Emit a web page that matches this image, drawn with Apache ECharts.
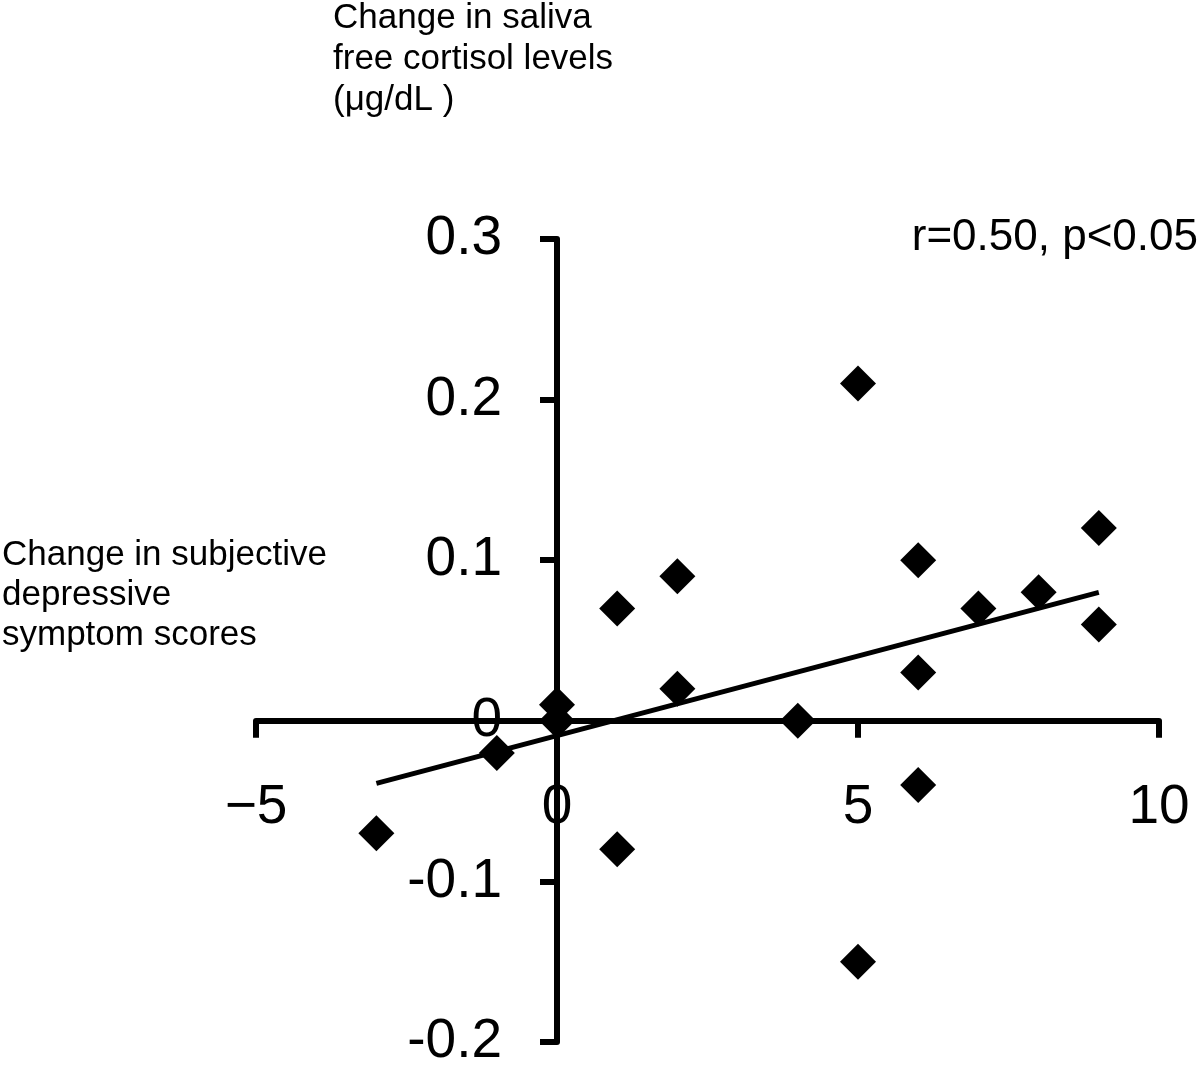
<!DOCTYPE html>
<html>
<head>
<meta charset="utf-8">
<script src="https://cdn.jsdelivr.net/npm/echarts@6/dist/echarts.min.js"></script>
<style>
html,body{margin:0;padding:0;background:#fff;}
#chart{width:1200px;height:1068px;}
</style>
</head>
<body>
<div id="chart"></div>
<script>
// Data
const depressionChange = [-3, -1, 0, 0, 1, 1, 2, 2, 4, 5, 5, 6, 6, 6, 7, 8, 9, 9];
const cortisolChange   = [-0.07, -0.02, 0.01, 0, 0.07, -0.08, 0.09, 0.02, 0, 0.21, -0.15, 0.10, 0.03, -0.04, 0.07, 0.08, 0.12, 0.06];
const trendX = [-3, 9];
const trendY = [-0.039, 0.080];
const xTickValues = [-5, 0, 5, 10];
const xTickLabels = ['\u22125', '0', '5', '10'];
const yTickValues = [-0.2, -0.1, 0, 0.1, 0.2, 0.3];
const yTickLabels = ['-0.2', '-0.1', '0', '0.1', '0.2', '0.3'];
const yAxisTitle = ['Change in saliva', 'free cortisol levels', '(\u03bcg/dL )'];
const xAxisTitle = ['Change in subjective', 'depressive', 'symptom scores'];
const statText = 'r=0.50, p<0.05';

const FONT = "'Liberation Sans', Arial, Helvetica, sans-serif";

const X_MIN = -5, X_MAX = 10, Y_MIN = -0.2, Y_MAX = 0.3;
const GRID = {left: 256, right: 41, top: 239, bottom: 26};
const W = 1200, H = 1068;
const gridW = W - GRID.left - GRID.right;
const gridH = H - GRID.top - GRID.bottom;
// Shift the axes inward so they cross at the origin (labels follow the axis line)
const xAxisOffset = -gridH * (0 - Y_MIN) / (Y_MAX - Y_MIN);
const yAxisOffset = -gridW * (0 - X_MIN) / (X_MAX - X_MIN);

function labelFor(values, labels, v) {
  for (let i = 0; i < values.length; i++) {
    if (Math.abs(values[i] - v) < 1e-9) return labels[i];
  }
  return '';
}

const points = depressionChange.map((x, i) => [x, cortisolChange[i]]);
const trend = trendX.map((x, i) => [x, trendY[i]]);

const chart = echarts.init(document.getElementById('chart'), null, {renderer: 'canvas'});
chart.setOption({
  backgroundColor: '#ffffff',
  animation: false,
  grid: Object.assign({containLabel: false, outerBoundsMode: 'none'}, GRID),
  xAxis: {
    type: 'value', min: X_MIN, max: X_MAX, interval: 5,
    position: 'bottom', offset: xAxisOffset,
    axisLine: {show: true, onZero: false, lineStyle: {color: '#000', width: 6}},
    axisTick: {show: true, length: 17, lineStyle: {color: '#000', width: 6}},
    splitLine: {show: false},
    axisLabel: {
      show: true, margin: 60, color: '#000', fontSize: 55, fontFamily: FONT,
      showMinLabel: true, showMaxLabel: true, hideOverlap: false,
      formatter: v => labelFor(xTickValues, xTickLabels, v)
    }
  },
  yAxis: {
    type: 'value', min: Y_MIN, max: Y_MAX, interval: 0.1,
    position: 'left', offset: yAxisOffset,
    axisLine: {show: true, onZero: false, lineStyle: {color: '#000', width: 6}},
    axisTick: {show: true, length: 17, lineStyle: {color: '#000', width: 6}},
    splitLine: {show: false},
    axisLabel: {
      show: true, margin: 55, color: '#000', fontSize: 55, fontFamily: FONT,
      showMinLabel: true, showMaxLabel: true, hideOverlap: false,
      formatter: v => labelFor(yTickValues, yTickLabels, v)
    }
  },
  series: [
    {
      type: 'line', data: trend, showSymbol: false, symbol: 'none',
      lineStyle: {color: '#000', width: 5}, z: 3, silent: true
    },
    {
      type: 'scatter', data: points, symbol: 'diamond', symbolSize: 36,
      itemStyle: {color: '#000', opacity: 1}, z: 4
    }
  ],
  graphic: [
    {
      type: 'text', left: 333, top: -2,
      style: {text: yAxisTitle.join('\n'), fontSize: 35, lineHeight: 41, fontFamily: FONT, fill: '#000'}
    },
    {
      type: 'text', left: 2, top: 535,
      style: {text: xAxisTitle.join('\n'), fontSize: 35, lineHeight: 40, fontFamily: FONT, fill: '#000'}
    },
    {
      type: 'text', right: 2, top: 216,
      style: {text: statText, fontSize: 44, fontFamily: FONT, fill: '#000'}
    }
  ]
});
</script>
</body>
</html>
